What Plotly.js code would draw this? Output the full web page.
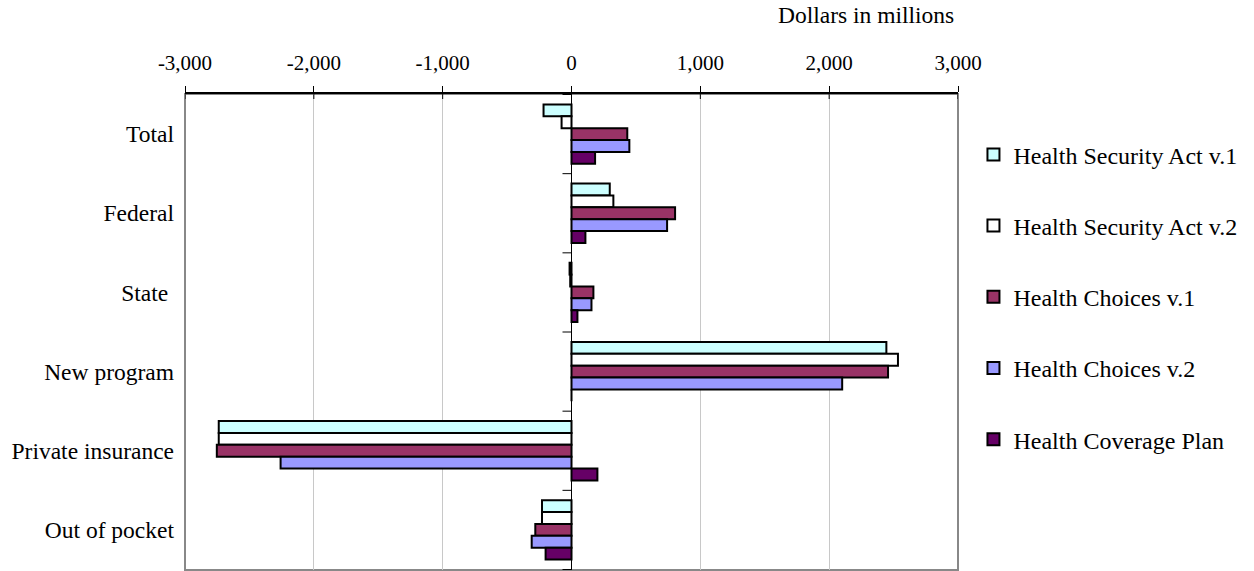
<!DOCTYPE html>
<html>
<head>
<meta charset="utf-8">
<script src="https://cdn.plot.ly/plotly-3.0.1.min.js"></script>
<style>html,body{margin:0;padding:0;background:#fff;}#chart{width:1254px;height:571px;}</style>
</head>
<body>
<div id="chart"></div>
<script>
const categories = ["Total", "Federal", "State ", "New program", "Private insurance", "Out of pocket"];
const seriesNames = ["Health Security Act v.1", "Health Security Act v.2", "Health Choices v.1", "Health Choices v.2", "Health Coverage Plan"];
const hsaV1 = [-217, 297, -15, 2444, -2738, -229];
const hsaV2 = [-77, 325, -10, 2534, -2738, -229];
const hcV1 = [433, 804, 170, 2457, -2753, -281];
const hcV2 = [449, 742, 155, 2101, -2258, -309];
const hcp = [183, 108, 46, 0, 201, -201];
const tickValues = [-3000, -2000, -1000, 0, 1000, 2000, 3000];
const tickLabels = ["-3,000", "-2,000", "-1,000", "0", "1,000", "2,000", "3,000"];
const colors = ["#CCFFFF", "#FFFFFF", "#993366", "#9999FF", "#660066"];
const allSeries = [hsaV1, hsaV2, hcV1, hcV2, hcp];

const FONT = "Liberation Serif, Times New Roman, serif";

const traces = allSeries.map((vals, i) => ({
  type: "bar",
  orientation: "h",
  name: seriesNames[i],
  legendgroup: "g" + i,
  y: categories,
  x: vals,
  marker: {color: colors[i], line: {color: "#000", width: 2}},
  hoverinfo: "x+name"
}));

// category boundary tick marks drawn on the zero line (derived from the category count)
const shapes = [
  {type: "rect", xref: "paper", yref: "paper", x0: 0, x1: 1, y0: 0, y1: 1,
   line: {color: "#888", width: 2}, layer: "below"}
];
for (let i = 0; i <= categories.length; i++) {
  shapes.push({
    type: "line", xref: "x", xsizemode: "pixel", xanchor: 0, x0: -9, x1: 0,
    yref: "y", y0: i - 0.5, y1: i - 0.5,
    line: {color: "#000", width: 1}
  });
}
// top axis tick marks crossing the axis line
tickValues.forEach(v => {
  shapes.push({
    type: "line", xref: "x", x0: v, x1: v,
    yref: "paper", ysizemode: "pixel", yanchor: 1, y0: 0, y1: -5,
    line: {color: "#000", width: 1}
  });
});

const layout = {
  width: 1254, height: 571,
  margin: {l: 185, r: 296, t: 94, b: 1, pad: 0},
  paper_bgcolor: "#fff", plot_bgcolor: "#fff",
  font: {family: FONT, size: 23, color: "#000"},
  barmode: "group",
  bargap: 0.25,
  bargroupgap: 0,
  showlegend: true,
  legend: {
    x: 1.02, xanchor: "left", y: 0.574, yanchor: "middle",
    font: {family: FONT, size: 24, color: "#000"},
    tracegroupgap: 37,
    traceorder: "grouped",
    bgcolor: "rgba(0,0,0,0)"
  },
  xaxis: {
    side: "top",
    range: [-3000, 3000],
    tickvals: tickValues,
    ticktext: tickLabels,
    ticks: "outside", ticklen: 6, tickcolor: "#000", tickwidth: 1,
    ticklabelstandoff: 8,
    showgrid: true, gridcolor: "#c8c8c8", gridwidth: 1,
    zeroline: true, zerolinecolor: "#000", zerolinewidth: 1.5,
    showline: true, linecolor: "#000", linewidth: 2,
    tickfont: {family: FONT, size: 21, color: "#000"},
    fixedrange: true
  },
  yaxis: {
    type: "category",
    categoryorder: "array", categoryarray: categories,
    autorange: "reversed",
    ticks: "", showgrid: false, zeroline: false,
    showline: false,
    ticklabelstandoff: 10,
    tickfont: {family: FONT, size: 23.5, color: "#000"},
    fixedrange: true
  },
  shapes: shapes,
  annotations: [
    {text: "Dollars in millions", xref: "paper", yref: "paper", x: 0.881, y: 1.165,
     xanchor: "center", yanchor: "middle", showarrow: false,
     font: {family: FONT, size: 23.5, color: "#000"}}
  ]
};

Plotly.newPlot("chart", traces, layout, {displayModeBar: false, staticPlot: true});
</script>
</body>
</html>
